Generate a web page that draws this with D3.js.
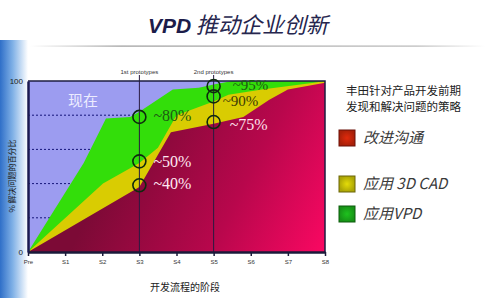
<!DOCTYPE html>
<html>
<head>
<meta charset="utf-8">
<script src="https://cdn.jsdelivr.net/npm/d3@7"></script>
<style>
  body { margin:0; background:#fff; }
  svg { display:block; }
</style>
</head>
<body>
<div id="chart"></div>
<script>
// Stages on the x axis
var stages = ["Pre", "S1", "S2", "S3", "S4", "S5", "S6", "S7", "S8"];

// Cumulative top boundary of each band: [stage position, % of problems solved]
var vpdTop  = [[0,0],[1.5,52],[2.1,78],[2.75,79],[3,82],[3.9,95],[4.6,96],[5,98],[5.5,100],[8,100]];
var cadTop  = [[0,0],[2.02,40],[3,52],[3.5,61],[4,80],[5,88],[5.4,92],[6.3,95],[7.7,99],[8,100]];
var commTop = [[0,0],[3,38],[3.85,70],[5,75],[5.8,79],[6.5,89],[7,95],[8,99]];

// Circled checkpoints at the two prototypes
var markStage  = [3, 3, 3, 5, 5, 5];
var markValue  = [79, 53, 39, 97, 91, 76];
var markLabels = ["~80%", "~50%", "~40%", "~95%", "~90%", "~75%"];

var protoStage  = [3, 5];
var protoLabels = ["1st prototypes", "2nd prototypes"];

var yTicks = [0, 100];
var gridValues = [20, 40, 60, 80];

var legendTitle = ["丰田针对产品开发前期", "发现和解决问题的策略"];
var legendNames = ["改进沟通", "应用 3D CAD", "应用VPD"];

var width = 496, height = 306;
var x = d3.scaleLinear().domain([0, 8]).range([28, 325]),
    y = d3.scaleLinear().domain([0, 100]).range([252, 81]);

var svg = d3.select("#chart").append("svg")
    .attr("width", width).attr("height", height);

var defs = svg.append("defs");

// left decorative blue stripe
var stripe = defs.append("linearGradient").attr("id", "stripe")
    .attr("x1", "0%").attr("x2", "100%").attr("y1", "0%").attr("y2", "0%");
stripe.append("stop").attr("offset", "0%").attr("stop-color", "#2f6fc8");
stripe.append("stop").attr("offset", "45%").attr("stop-color", "#7fb0e6");
stripe.append("stop").attr("offset", "100%").attr("stop-color", "#ffffff");
svg.append("rect").attr("x", 0).attr("y", 40).attr("width", 28).attr("height", 258)
    .attr("fill", "url(#stripe)");

// title rule
var rule = defs.append("linearGradient").attr("id", "rule")
    .attr("x1", "0%").attr("x2", "100%");
rule.append("stop").attr("offset", "0%").attr("stop-color", "#fff");
rule.append("stop").attr("offset", "20%").attr("stop-color", "#9a9a9a");
rule.append("stop").attr("offset", "85%").attr("stop-color", "#b8b8b8");
rule.append("stop").attr("offset", "100%").attr("stop-color", "#fff");
svg.append("rect").attr("x", 30).attr("y", 45.5).attr("width", 455).attr("height", 1.2)
    .attr("fill", "url(#rule)");

// title
var title = svg.append("text").attr("x", 148).attr("y", 33)
    .attr("fill", "#1c1c4a").style("font-style", "italic");
title.append("tspan").text("VPD")
    .style("font-family", "Liberation Sans, Arial, sans-serif")
    .style("font-weight", "bold").style("font-size", "21px");
title.append("tspan").text(" 推动企业创新")
    .style("font-family", "Noto Sans CJK SC, sans-serif")
    .style("font-size", "22px").attr("fill", "#26264e");

// plot background
svg.append("rect").attr("x", x(0)).attr("y", y(100))
    .attr("width", x(8) - x(0)).attr("height", y(0) - y(100))
    .attr("fill", "#9c9cf0");

// dotted grid
svg.selectAll(".grid").data(gridValues).enter().append("line")
    .attr("class", "grid")
    .attr("x1", x(0)).attr("x2", x(8))
    .attr("y1", d => y(d)).attr("y2", d => y(d))
    .attr("stroke", "#15157a").attr("stroke-width", 1)
    .attr("stroke-dasharray", "2,2");

// maroon gradient
var maroon = defs.append("linearGradient").attr("id", "maroon")
    .attr("gradientUnits", "userSpaceOnUse")
    .attr("x1", x(2.5)).attr("y1", y(60)).attr("x2", x(8)).attr("y2", y(0));
maroon.append("stop").attr("offset", "0%").attr("stop-color", "#7c0a36");
maroon.append("stop").attr("offset", "55%").attr("stop-color", "#b8074c");
maroon.append("stop").attr("offset", "100%").attr("stop-color", "#fa0862");

var area = d3.area()
    .x(d => x(d[0]))
    .y0(y(0))
    .y1(d => y(d[1]));

svg.append("path").datum(vpdTop).attr("d", area).attr("fill", "#33de0a");
svg.append("path").datum(cadTop).attr("d", area).attr("fill", "#d9cc02");
svg.append("path").datum(commTop).attr("d", area).attr("fill", "url(#maroon)");

// prototype lines
svg.selectAll(".proto").data(protoStage).enter().append("line")
    .attr("x1", d => x(d)).attr("x2", d => x(d))
    .attr("y1", y(100) - 6).attr("y2", y(0))
    .attr("stroke", "#2a1a40").attr("stroke-width", 1);
svg.selectAll(".protoLab").data(protoStage).enter().append("text")
    .attr("x", d => x(d)).attr("y", 74)
    .attr("text-anchor", "middle")
    .style("font-family", "Liberation Sans, Arial, sans-serif")
    .style("font-size", "6px").attr("fill", "#333")
    .text((d, i) => protoLabels[i]);

// frame
svg.append("path")
    .attr("d", "M" + x(0) + "," + y(100) + "H" + x(8) + "V" + y(0))
    .attr("fill", "none").attr("stroke", "#1c1c40").attr("stroke-width", 1.5);

// x axis
var xAxis = svg.append("g").attr("transform", "translate(0," + y(0) + ")")
    .call(d3.axisBottom(x).tickValues(d3.range(stages.length))
        .tickFormat(i => stages[i]).tickSize(4).tickSizeOuter(0));
xAxis.select(".domain").attr("stroke", "#1a1a3a").attr("stroke-width", 2.5);
xAxis.selectAll(".tick line").attr("stroke", "#1a1a3a").attr("stroke-width", 1.5);
xAxis.selectAll(".tick text").attr("fill", "#333").attr("dy", "0.9em")
    .style("font-size", "6px").style("font-family", "Liberation Sans, Arial, sans-serif");

// y axis
var yAxis = svg.append("g").attr("transform", "translate(" + x(0) + ",0)")
    .call(d3.axisLeft(y).tickValues(yTicks).tickSize(0).tickPadding(5));
yAxis.select(".domain").attr("stroke", "#1a1a50").attr("stroke-width", 2.5);
yAxis.selectAll(".tick text").attr("fill", "#222")
    .style("font-size", "8px").style("font-family", "Liberation Sans, Arial, sans-serif");

// axis titles
svg.append("text").attr("x", 185).attr("y", 291).attr("text-anchor", "middle")
    .style("font-family", "Noto Sans CJK SC, sans-serif").style("font-size", "10px")
    .attr("fill", "#222").text("开发流程的阶段");
svg.append("text").attr("transform", "translate(15,176) rotate(-90)")
    .attr("text-anchor", "middle")
    .style("font-family", "Noto Sans CJK SC, sans-serif").style("font-size", "8px")
    .attr("fill", "#222").text("% 解决问题的百分比");

// "现在"
svg.append("text").attr("x", 68).attr("y", 106)
    .style("font-family", "Noto Sans CJK SC, sans-serif").style("font-size", "15px")
    .attr("fill", "#ececff").text("现在");

// circles and labels
var labelCol = ["#1e5a12", "#ffe8f2", "#ffe8f2", "#1e5a12", "#3c3a06", "#ffe0ec"];
var labelDx  = [14, 14, 14, 19, 9, 16];
var labelDy  = [4, 6, 4, 4, 10, 8];
var labelSize = [16, 16, 16, 15, 15, 16];
svg.selectAll(".mark").data(markStage).enter().append("circle")
    .attr("cx", d => x(d)).attr("cy", (d, i) => y(markValue[i]))
    .attr("r", 6.5).attr("fill", "none")
    .attr("stroke", "#0e2a0e").attr("stroke-width", 1.6);
svg.selectAll(".markLab").data(markStage).enter().append("text")
    .attr("x", (d, i) => x(d) + labelDx[i])
    .attr("y", (d, i) => y(markValue[i]) + labelDy[i])
    .style("font-family", "Liberation Serif, Times New Roman, serif")
    .style("font-size", (d, i) => labelSize[i] + "px")
    .attr("fill", (d, i) => labelCol[i])
    .text((d, i) => markLabels[i]);

// legend
svg.selectAll(".legTitle").data(legendTitle).enter().append("text")
    .attr("x", 346).attr("y", (d, i) => 95 + i * 16)
    .style("font-family", "Noto Sans CJK SC, sans-serif").style("font-size", "11.5px")
    .attr("fill", "#222").text(d => d);

var swatchFill = ["#e02a0c", "#e4dc08", "#1ec21e"],
    swatchEdge = ["#6a1008", "#6a6408", "#0c5a0c"],
    swatchY = [130, 176, 206];
swatchFill.forEach(function(c, i) {
    var g = defs.append("radialGradient").attr("id", "sw" + i);
    g.append("stop").attr("offset", "0%").attr("stop-color", c);
    g.append("stop").attr("offset", "100%").attr("stop-color", d3.color(c).darker(0.8));
});
svg.selectAll(".sw").data(legendNames).enter().append("rect")
    .attr("x", 339).attr("y", (d, i) => swatchY[i])
    .attr("width", 16).attr("height", 16)
    .attr("fill", (d, i) => "url(#sw" + i + ")")
    .attr("stroke", (d, i) => swatchEdge[i]).attr("stroke-width", 1);
svg.selectAll(".legLab").data(legendNames).enter().append("text")
    .attr("x", 363).attr("y", (d, i) => swatchY[i] + 13)
    .style("font-family", "Noto Sans CJK SC, sans-serif").style("font-size", "15px")
    .style("font-style", "italic")
    .attr("fill", "#3a3a3a").text(d => d);
</script>
</body>
</html>
